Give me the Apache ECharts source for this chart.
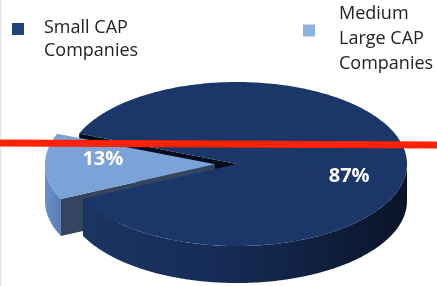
<!DOCTYPE html>
<html><head><meta charset="utf-8">
<script src="https://cdn.jsdelivr.net/npm/echarts@6/dist/echarts.min.js"></script>
<style>html,body{margin:0;padding:0;background:#fff}#c{width:437px;height:286px}</style>
</head><body><div id="c"></div>
<script>
const categories = ['Small CAP Companies', 'Medium Large CAP Companies'];
const shares = [87, 13];
const shareLabels = ['87%', '13%'];
const legendLines = [['Small CAP', 'Companies'], ['Medium', 'Large CAP', 'Companies']];

const chart = echarts.init(document.getElementById('c'), null, {renderer: 'canvas'});
const CX = 237, CY = 164, RX = 170, RY = 82, DEPTH = 37, START = 201.8;
const EXPLODE = [0, 22];
const FONT = '"Open Sans", "Liberation Sans", sans-serif';
const total = shares.reduce((a, b) => a + b, 0);
const spans = []; let acc = START;
shares.forEach(v => { const s = acc, e = acc + 360 * v / total; spans.push([s, e]); acc = e; });
const rad = d => d * Math.PI / 180;
function mid(i) { return (spans[i][0] + spans[i][1]) / 2; }
function offset(i) { const m = rad(mid(i)); return [EXPLODE[i] * Math.cos(m), EXPLODE[i] * Math.sin(m) * RY / RX]; }
function pt(th, o, dz) { return [CX + o[0] + RX * Math.cos(rad(th)), CY + o[1] + RY * Math.sin(rad(th)) + (dz || 0)]; }
function arc(a0, a1, o, dz) { const pts = []; const n = Math.max(2, Math.ceil(Math.abs(a1 - a0))); for (let k = 0; k <= n; k++) pts.push(pt(a0 + (a1 - a0) * k / n, o, dz)); return pts; }
function topFace(i) { const o = offset(i); return [[CX + o[0], CY + o[1]]].concat(arc(spans[i][0], spans[i][1], o, 0)); }
function sideFaces(i) {
  const o = offset(i); const a0 = spans[i][0], a1 = spans[i][1]; const res = [];
  for (let k = Math.floor(a0 / 360) - 1; k <= Math.ceil(a1 / 360); k++) {
    const s = Math.max(a0, k * 360), e = Math.min(a1, k * 360 + 180);
    if (e > s) res.push(arc(s, e, o, 0).concat(arc(e, s, o, DEPTH)));
  }
  return res;
}
function radialFace(i, th) { const o = offset(i); const c = [CX + o[0], CY + o[1]]; const p = pt(th, o, 0); return [c, p, [p[0], p[1] + DEPTH], [c[0], c[1] + DEPTH]]; }
function labelPos(i, f, dy) { const o = offset(i); const m = rad(mid(i)); return [CX + o[0] + f * RX * Math.cos(m), CY + o[1] + f * RY * Math.sin(m) + dy]; }
function grad(c0, c1) { return new echarts.graphic.LinearGradient(0, 0, 1, 0, [{offset: 0, color: c0}, {offset: 1, color: c1}]); }
function labelEl(i, f, dy) {
  const p = labelPos(i, f, dy);
  return {type: 'text', x: p[0], y: p[1], style: {text: shareLabels[i], fill: '#ffffff', font: 'bold 20px ' + FONT, align: 'center', verticalAlign: 'middle'}};
}

const option = {
  animation: false,
  backgroundColor: '#ffffff',
  legend: [
    {
      data: [{name: categories[0], itemStyle: {color: '#1f4478'}}],
      left: 12, top: 1, padding: 0, icon: 'rect', itemWidth: 12, itemHeight: 12, selectedMode: false,
      formatter: () => '{g| }\n' + legendLines[0].map(s => '{t|' + s + '}').join('\n'),
      textStyle: {padding: [0, 0, 0, 15], fontFamily: FONT, fontSize: 18, color: '#222222',
        rich: {g: {lineHeight: 21, fontSize: 10}, t: {lineHeight: 23, fontSize: 18, fontFamily: FONT, color: '#222222'}}}
    },
    {
      data: [{name: categories[1], itemStyle: {color: '#8db3e2'}}],
      left: 303, top: -12, padding: 0, icon: 'rect', itemWidth: 12, itemHeight: 12, selectedMode: false,
      formatter: () => '{g| }\n' + legendLines[1].map(s => '{t|' + s + '}').join('\n'),
      textStyle: {padding: [0, 0, 0, 19], fontFamily: FONT, fontSize: 18, color: '#222222',
        rich: {g: {lineHeight: 17.5, fontSize: 10}, t: {lineHeight: 25, fontSize: 18, fontFamily: FONT, color: '#222222'}}}
    }
  ],
  series: [
    {
      type: 'custom', name: 'cut', coordinateSystem: 'none', silent: true, z: 1, data: [0],
      renderItem: () => ({type: 'polygon', shape: {points: radialFace(0, spans[0][0])}, style: {fill: '#050b18'}})
    },
    {
      type: 'custom', name: categories[1], coordinateSystem: 'none', z: 2, data: [shares[1]],
      itemStyle: {color: '#8db3e2'},
      renderItem: () => ({type: 'group', children: [
        {type: 'polygon', shape: {points: radialFace(1, spans[1][0])}, style: {fill: '#34465f'}},
        ...sideFaces(1).map(p => ({type: 'polygon', shape: {points: p}, style: {fill: grad('#6a8fc8', '#5a7db4')}})),
        {type: 'polygon', shape: {points: topFace(1)}, style: {fill: '#7ba3d8'}},
        labelEl(1, 0.66, -7)
      ]})
    },
    {
      type: 'custom', name: categories[0], coordinateSystem: 'none', z: 3, data: [shares[0]],
      itemStyle: {color: '#1f4478'},
      renderItem: () => ({type: 'group', children: [
        ...sideFaces(0).map(p => ({type: 'polygon', shape: {points: p}, style: {fill: new echarts.graphic.LinearGradient(0, 0, 1, 0, [
          {offset: 0, color: '#1c3463'}, {offset: 0.45, color: '#152b55'}, {offset: 1, color: '#0a1428'}])}})),
        {type: 'polygon', shape: {points: topFace(0)}, style: {fill: '#1b3669'}},
        labelEl(0, 0.66, 14)
      ]})
    }
  ],
  graphic: [
    {type: 'line', z: 90, shape: {x1: 0.5, y1: 0, x2: 0.5, y2: 286}, style: {stroke: '#e2e2e2', lineWidth: 1}},
    {type: 'line', z: 100, shape: {x1: 0, y1: 143, x2: 437, y2: 145}, style: {stroke: '#ff2200', lineWidth: 7}}
  ]
};
chart.setOption(option);
</script></body></html>
